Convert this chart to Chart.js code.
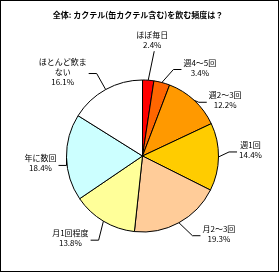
<!DOCTYPE html>
<html>
<head>
<meta charset="utf-8">
<script src="https://cdn.jsdelivr.net/npm/chart.js@4.4.1/dist/chart.umd.min.js"></script>
<style>
  html, body { margin: 0; padding: 0; background: #fff; }
  canvas { display: block; }
</style>
</head>
<body>
<canvas id="freqPie" width="279" height="272"></canvas>
<script>
// Data
const chartTitle = '全体: カクテル(缶カクテル含む)を飲む頻度は？';
const categories = ['ほぼ毎日', '週4～5回', '週2～3回', '週1回', '月2～3回', '月1回程度', '年に数回', 'ほとんど飲まない'];
const shares = [2.4, 3.4, 12.2, 14.4, 19.3, 13.8, 18.4, 16.1];

// Styling / layout
const sliceColors = ['#FF0000', '#FF6600', '#FF9900', '#FFCC00', '#FFCC99', '#FFFF99', '#CCFFFF', '#FFFFFF'];
// label centre, relative to the point where the slice's mid-angle meets the rim
const labelShift = [[4, -40], [38, -15], [31, 0], [32, -7], [40, 11], [-33, 17], [-26, 6], [-43, -18]];
const FONT = '"Noto Sans CJK JP", "Noto Sans", sans-serif';

function wrapLabel(text) {
    const lines = [];
    for (let i = 0; i < text.length; i += 6) lines.push(text.slice(i, i + 6));
    return lines;
}

const pieLabels = {
    id: 'pieLabels',
    afterDraw: function(chart) {
        const ctx = chart.ctx;
        const arcs = chart.getDatasetMeta(0).data;
        ctx.save();

        // outer frame
        ctx.strokeStyle = '#000';
        ctx.lineWidth = 1;
        ctx.strokeRect(0.5, 0.5, chart.width - 1, chart.height - 1);

        // title
        ctx.fillStyle = '#000';
        ctx.font = 'bold 8px ' + FONT;
        ctx.textAlign = 'center';
        ctx.textBaseline = 'middle';
        ctx.fillText(chartTitle, 138, 15);

        ctx.font = '8px ' + FONT;
        const lineH = 10;
        arcs.forEach(function(arc, i) {
            const mid = (arc.startAngle + arc.endAngle) / 2;
            const ex = arc.x + arc.outerRadius * Math.cos(mid);
            const ey = arc.y + arc.outerRadius * Math.sin(mid);
            const lines = wrapLabel(categories[i]).concat([shares[i].toFixed(1) + '%']);
            const cx = ex + labelShift[i][0];
            const cy = ey + labelShift[i][1];
            const w = Math.max.apply(null, lines.map(function(l) { return ctx.measureText(l).width; }));
            const h = lines.length * lineH;

            ctx.fillStyle = '#000';
            lines.forEach(function(l, k) {
                ctx.fillText(l, cx, cy - h / 2 + lineH / 2 + k * lineH);
            });

            // leader line
            ctx.beginPath();
            ctx.strokeStyle = '#000';
            ctx.lineWidth = 1;
            if (Math.abs(labelShift[i][0]) < 10) {
                ctx.moveTo(cx + 2, cy + h / 2 + 1);
                ctx.lineTo(ex, ey);
            } else {
                const side = labelShift[i][0] > 0 ? -1 : 1;
                const ax = cx + side * (w / 2 + 2);
                const ay = cy + 2;
                ctx.moveTo(ax, ay);
                ctx.lineTo(ax + side * 8, ay);
                ctx.lineTo(ex, ey);
            }
            ctx.stroke();
        });
        ctx.restore();
    }
};

new Chart(document.getElementById('freqPie'), {
    type: 'pie',
    data: {
        labels: categories,
        datasets: [{
            data: shares,
            backgroundColor: sliceColors,
            borderColor: '#000',
            borderWidth: 1,
        }]
    },
    options: {
        responsive: false,
        animation: false,
        layout: { padding: { left: 66, right: 60, top: 79.5, bottom: 39.5 } },
        plugins: {
            legend: { display: false },
            tooltip: { enabled: false },
            title: { display: false }
        }
    },
    plugins: [pieLabels]
});
</script>
</body>
</html>
